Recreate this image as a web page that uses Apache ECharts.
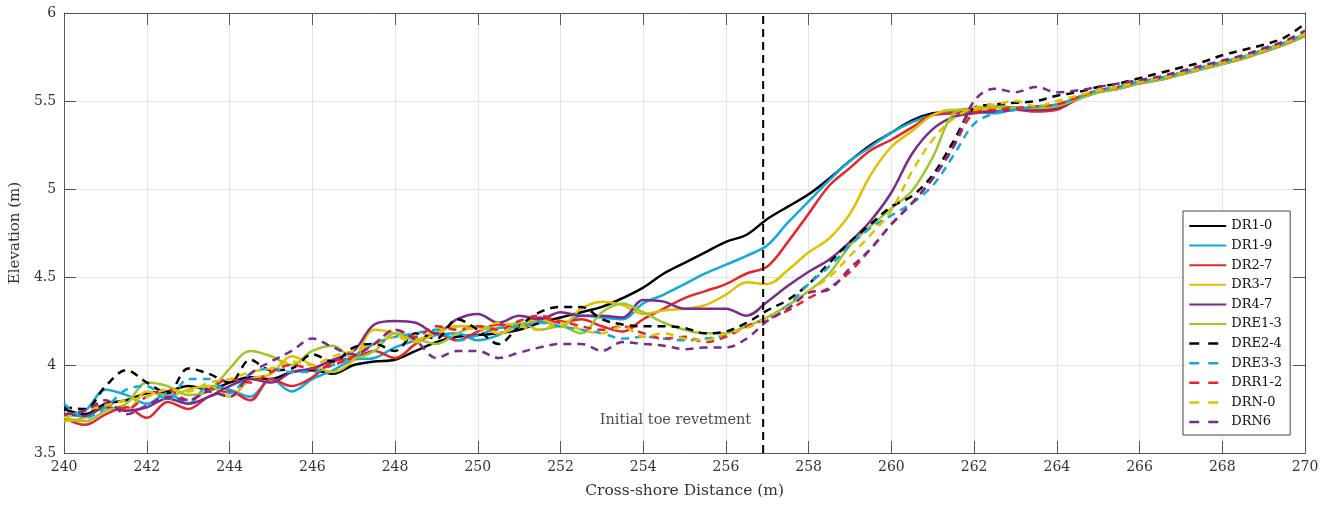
<!DOCTYPE html>
<html><head><meta charset="utf-8">
<script src="https://cdn.jsdelivr.net/npm/echarts@6/dist/echarts.min.js"></script>
<style>html,body{margin:0;padding:0;background:#fff}#c{width:1333px;height:508px}</style>
</head><body><div id="c"></div>
<script>
const xs = [240,240.5,241,241.5,242,242.5,243,243.5,244,244.5,245,245.5,246,246.5,247,247.5,248,248.5,249,249.5,250,250.5,251,251.5,252,252.5,253,253.5,254,254.5,255,255.5,256,256.5,257,257.5,258,258.5,259,259.5,260,260.5,261,261.5,262,262.5,263,263.5,264,264.5,265,265.5,266,266.5,267,267.5,268,268.5,269,269.5,270];

const DR1_0 = [3.75,3.72,3.78,3.80,3.84,3.85,3.88,3.86,3.90,3.93,
 3.92,3.96,3.97,3.95,4.00,4.02,4.03,4.08,4.13,4.16,
 4.17,4.18,4.20,4.24,4.27,4.30,4.33,4.38,4.44,4.52,
 4.58,4.64,4.70,4.74,4.83,4.90,4.97,5.06,5.16,5.25,
 5.32,5.39,5.43,5.44,5.45,5.47,5.46,5.45,5.47,5.52,
 5.56,5.58,5.61,5.63,5.66,5.69,5.72,5.75,5.79,5.83,5.88];
const DR1_9 = [3.72,3.74,3.86,3.83,3.78,3.84,3.78,3.88,3.86,3.82,
 3.92,3.85,3.92,3.97,4.03,4.04,4.10,4.14,4.17,4.18,
 4.14,4.17,4.23,4.25,4.22,4.28,4.27,4.26,4.35,4.40,
 4.46,4.52,4.57,4.62,4.68,4.81,4.93,5.05,5.16,5.24,
 5.32,5.38,5.42,5.44,5.44,5.43,5.45,5.45,5.47,5.52,
 5.56,5.58,5.61,5.63,5.66,5.69,5.72,5.75,5.79,5.83,5.88];
const DR2_7 = [3.70,3.66,3.72,3.76,3.70,3.79,3.75,3.82,3.85,3.80,
 3.92,3.88,3.93,4.02,4.04,4.08,4.04,4.12,4.18,4.14,
 4.19,4.23,4.22,4.27,4.24,4.26,4.22,4.19,4.26,4.32,
 4.38,4.42,4.46,4.52,4.56,4.70,4.86,5.02,5.12,5.22,
 5.28,5.35,5.42,5.43,5.44,5.44,5.45,5.44,5.45,5.51,
 5.55,5.58,5.60,5.63,5.66,5.69,5.72,5.75,5.78,5.82,5.87];
const DR3_7 = [3.68,3.70,3.76,3.74,3.85,3.82,3.86,3.88,3.82,3.92,
 3.95,4.05,4.00,3.96,4.03,4.20,4.18,4.14,4.20,4.22,
 4.22,4.18,4.22,4.26,4.22,4.32,4.36,4.34,4.29,4.31,
 4.32,4.34,4.40,4.47,4.46,4.54,4.64,4.72,4.86,5.08,
 5.24,5.33,5.42,5.45,5.45,5.46,5.46,5.46,5.48,5.52,
 5.56,5.58,5.61,5.63,5.66,5.69,5.72,5.75,5.79,5.83,5.88];
const DR4_7 = [3.72,3.71,3.76,3.74,3.76,3.81,3.78,3.82,3.88,3.92,
 3.90,3.96,3.98,4.03,4.08,4.23,4.25,4.24,4.18,4.26,
 4.29,4.24,4.28,4.26,4.30,4.28,4.28,4.27,4.37,4.36,
 4.32,4.32,4.32,4.28,4.36,4.45,4.53,4.60,4.70,4.82,
 4.98,5.20,5.34,5.41,5.43,5.44,5.45,5.45,5.46,5.51,
 5.55,5.57,5.60,5.62,5.65,5.68,5.71,5.74,5.78,5.82,5.87];
const DRE1_3 = [3.70,3.68,3.74,3.78,3.90,3.88,3.83,3.85,3.98,4.08,
 4.05,4.00,4.08,4.11,4.04,4.08,4.18,4.15,4.12,4.18,
 4.22,4.21,4.24,4.20,4.22,4.18,4.30,4.35,4.30,4.24,
 4.20,4.18,4.18,4.22,4.27,4.34,4.42,4.52,4.68,4.79,
 4.89,4.99,5.18,5.43,5.46,5.47,5.46,5.46,5.47,5.51,
 5.55,5.57,5.60,5.62,5.65,5.68,5.71,5.74,5.78,5.82,5.87];
const DRE2_4 = [3.76,3.75,3.88,3.97,3.90,3.84,3.98,3.95,3.90,4.03,
 3.97,3.98,4.06,4.02,4.10,4.12,4.08,4.18,4.15,4.26,
 4.20,4.12,4.22,4.30,4.33,4.33,4.26,4.23,4.22,4.22,
 4.21,4.18,4.19,4.24,4.31,4.37,4.46,4.58,4.70,4.80,
 4.90,4.96,5.08,5.27,5.46,5.48,5.49,5.50,5.53,5.55,
 5.58,5.60,5.63,5.66,5.69,5.72,5.76,5.79,5.82,5.86,5.94];
const DRE3_3 = [3.78,3.70,3.76,3.86,3.88,3.80,3.92,3.92,3.84,3.95,
 3.98,3.96,3.96,4.00,4.05,4.12,4.16,4.18,4.20,4.14,
 4.17,4.21,4.22,4.24,4.22,4.20,4.18,4.15,4.16,4.15,
 4.14,4.15,4.17,4.22,4.27,4.34,4.46,4.56,4.68,4.78,
 4.85,4.92,5.02,5.19,5.37,5.43,5.45,5.47,5.48,5.52,
 5.56,5.58,5.61,5.63,5.66,5.69,5.72,5.75,5.79,5.83,5.88];
const DRR1_2 = [3.72,3.74,3.78,3.75,3.82,3.86,3.80,3.86,3.92,3.90,
 3.96,4.00,3.98,4.00,4.05,4.12,4.20,4.16,4.22,4.20,
 4.22,4.20,4.25,4.28,4.25,4.22,4.20,4.22,4.18,4.15,
 4.16,4.13,4.16,4.22,4.26,4.31,4.38,4.44,4.53,4.66,
 4.80,4.92,5.06,5.24,5.43,5.45,5.46,5.47,5.48,5.52,
 5.56,5.58,5.61,5.63,5.66,5.69,5.72,5.75,5.79,5.83,5.88];
const DRN_0 = [3.70,3.74,3.77,3.80,3.82,3.86,3.85,3.90,3.92,3.96,
 3.98,4.02,4.00,4.05,4.08,4.12,4.16,4.13,4.18,4.22,
 4.20,4.24,4.22,4.20,4.24,4.20,4.18,4.22,4.16,4.18,
 4.15,4.14,4.18,4.21,4.27,4.33,4.42,4.50,4.62,4.74,
 4.88,5.10,5.28,5.40,5.46,5.48,5.50,5.47,5.50,5.53,
 5.56,5.58,5.61,5.63,5.66,5.69,5.72,5.75,5.79,5.83,5.88];
const DRN6 = [3.72,3.74,3.80,3.72,3.77,3.82,3.80,3.85,3.82,3.95,
 4.02,4.08,4.15,4.10,4.06,4.12,4.20,4.14,4.04,4.08,
 4.08,4.04,4.07,4.10,4.12,4.12,4.08,4.13,4.12,4.11,
 4.09,4.10,4.10,4.15,4.25,4.32,4.41,4.43,4.55,4.66,
 4.80,4.92,5.06,5.24,5.50,5.57,5.55,5.58,5.55,5.56,
 5.58,5.60,5.62,5.64,5.67,5.70,5.73,5.76,5.80,5.84,5.90];

const seriesNames = ['DR1-0','DR1-9','DR2-7','DR3-7','DR4-7','DRE1-3','DRE2-4','DRE3-3','DRR1-2','DRN-0','DRN6'];
const seriesValues = [DR1_0,DR1_9,DR2_7,DR3_7,DR4_7,DRE1_3,DRE2_4,DRE3_3,DRR1_2,DRN_0,DRN6];
const xRange = [240, 270];
const yRange = [3.5, 6];
const toeX = 256.9;
const toeLabel = 'Initial toe revetment';
const toeLabelY = 3.685;
const xAxisName = 'Cross-shore Distance (m)';
const yAxisName = 'Elevation (m)';

const colors = ['#000000','#12aadc','#e8232a','#e2c000','#7b2b8e','#9cc72a','#000000','#12aadc','#e8232a','#e2c000','#7b2b8e'];
const dashed = [false,false,false,false,false,false,true,true,true,true,true];
const FONT = 'DejaVu Serif';

const series = seriesNames.map((n, k) => ({
  type: 'line', name: n,
  data: xs.map((x, i) => [x, seriesValues[k][i]]),
  smooth: 0.35, symbol: 'none', showSymbol: false,
  lineStyle: { color: colors[k], width: 2.5, type: dashed[k] ? [8, 6] : 'solid' },
  itemStyle: { color: colors[k] },
  z: 3 + k, silent: true, animation: false
}));

series.push({
  type: 'line', name: 'toe',
  data: [[toeX, yRange[0]], [toeX, yRange[1]]],
  symbol: 'none', lineStyle: { color: '#000', width: 2, type: [8, 5] },
  z: 20, silent: true, animation: false
});
series.push({
  type: 'scatter', name: 'toeLabel',
  data: [[toeX, toeLabelY]], symbolSize: 0,
  label: { show: true, position: 'left', distance: 12, formatter: toeLabel,
           fontFamily: FONT, fontSize: 14.5, color: '#1a1a1a' },
  z: 21, silent: true, animation: false
});

const legendData = seriesNames.map((n, k) => dashed[k]
  ? { name: n, lineStyle: { type: [10, 9], width: 2.5, color: colors[k] } }
  : { name: n });

const axisCol = '#555';
const chart = echarts.init(document.getElementById('c'), null, { renderer: 'canvas' });
chart.setOption({
  animation: false,
  backgroundColor: '#fff',
  grid: { left: 62, right: 28, top: 13, bottom: 55 },
  xAxis: [
    { type: 'value', min: xRange[0], max: xRange[1], interval: 2, position: 'bottom',
      axisLine: { show: true, lineStyle: { color: axisCol, width: 1 } },
      axisTick: { show: true, inside: true, length: 12, lineStyle: { color: axisCol } },
      axisLabel: { fontFamily: FONT, fontSize: 14, color: '#333', margin: 7 },
      splitLine: { show: true, lineStyle: { color: '#e4e4e4', width: 1 } },
      name: xAxisName, nameLocation: 'middle', nameGap: 30,
      nameTextStyle: { fontFamily: FONT, fontSize: 15.5, color: '#333' } },
    { type: 'value', min: xRange[0], max: xRange[1], interval: 2, position: 'top',
      axisLine: { show: true, lineStyle: { color: axisCol, width: 1 } },
      axisTick: { show: true, inside: true, length: 12, lineStyle: { color: axisCol } },
      axisLabel: { show: false }, splitLine: { show: false } }
  ],
  yAxis: [
    { type: 'value', min: yRange[0], max: yRange[1], interval: 0.5, position: 'left',
      axisLine: { show: true, lineStyle: { color: axisCol, width: 1 } },
      axisTick: { show: true, inside: true, length: 12, lineStyle: { color: axisCol } },
      axisLabel: { fontFamily: FONT, fontSize: 14, color: '#333', margin: 8 },
      splitLine: { show: true, lineStyle: { color: '#e4e4e4', width: 1 } },
      name: yAxisName, nameLocation: 'middle', nameGap: 31, nameRotate: 90,
      nameTextStyle: { fontFamily: FONT, fontSize: 15, color: '#333' } },
    { type: 'value', min: yRange[0], max: yRange[1], interval: 0.5, position: 'right',
      axisLine: { show: true, lineStyle: { color: axisCol, width: 1 } },
      axisTick: { show: true, inside: true, length: 12, lineStyle: { color: axisCol } },
      axisLabel: { show: false }, splitLine: { show: false } }
  ],
  legend: {
    data: legendData, orient: 'vertical', left: 1183, top: 211,
    itemWidth: 37, itemHeight: 14, itemGap: 5.6, padding: [8, 8, 6, 5],
    backgroundColor: '#fff', borderColor: '#444', borderWidth: 1, borderRadius: 0,
    itemStyle: { color: 'rgba(0,0,0,0)', borderColor: 'rgba(0,0,0,0)', borderWidth: 0, opacity: 0 },
    textStyle: { fontFamily: FONT, fontSize: 13, color: '#111', lineHeight: 14 }
  },
  series: series
});
</script></body></html>
